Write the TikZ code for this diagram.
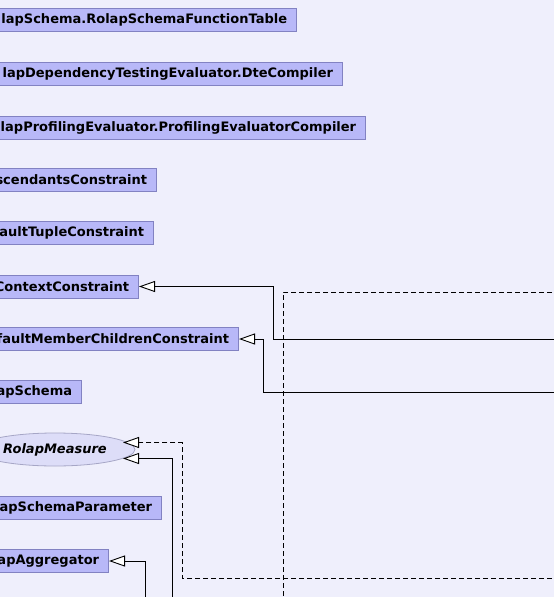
\documentclass[tikz,border=0pt]{standalone}
\usepackage{fontspec}
\setsansfont{DejaVu Sans}
\usetikzlibrary{arrows.meta,shapes.geometric}

\definecolor{canvas}{HTML}{EFEFFC}
\definecolor{classfill}{HTML}{B8B8F8}
\definecolor{classline}{HTML}{8282C2}
\definecolor{ifacefill}{HTML}{DDDDF8}
\definecolor{ifaceline}{HTML}{A6A6C6}

\tikzset{
  label font/.style={font=\sffamily\bfseries\fontsize{13bp}{15bp}\selectfont, text=black},
  cls/.style={label font, draw=classline, fill=classfill, line width=0.8bp,
    anchor=east, minimum height=23bp, inner xsep=9.5bp, inner ysep=0pt},
  iface/.style={label font, ellipse, draw=ifaceline, fill=ifacefill, line width=0.8bp,
    minimum width=160bp, minimum height=33bp, inner sep=0pt},
  inh/.style={draw=black, line width=0.9bp,
    -{Triangle[length=16bp, width=11bp, fill=white, line width=0.9bp]}},
  tmpl/.style={inh, dash pattern=on 5bp off 3bp},
  plain/.style={draw=black, line width=0.9bp, dash pattern=on 5bp off 3bp},
}

\begin{document}
\begin{tikzpicture}[x=1bp, y=-1bp]
  \useasboundingbox (0,0) rectangle (554,597);
  \fill[canvas] (0,0) rectangle (554,597);
  \clip (0,0) rectangle (554,597);

  % class boxes, placed by their right edge
  \node[cls] (fntable)  at (297,20)    {lapSchema.RolapSchemaFunctionTable};
  \node[cls] (dte)      at (343,74)    {lapDependencyTestingEvaluator.DteCompiler};
  \node[cls] (profcomp) at (366,127.5) {lapProfilingEvaluator.ProfilingEvaluatorCompiler};
  \node[cls] (desc)     at (157,180)   {scendantsConstraint};
  \node[cls] (deftuple) at (154,233)   {faultTupleConstraint};
  \node[cls] (context)  at (139,286.5) {ContextConstraint};
  \node[cls] (defchild) at (239,339)   {faultMemberChildrenConstraint};
  \node[cls] (schema)   at (82,392)    {apSchema};
  \node[iface] (measure) at (55,449.5) {\itshape RolapMeasure};
  \node[cls] (param)    at (162,508)   {apSchemaParameter};
  \node[cls] (aggr)     at (109,561)   {apAggregator};

  % free ends of connectors leaving the visible area
  \coordinate (fromA) at (560,339);
  \coordinate (fromB) at (560,392);
  \coordinate (fromC) at (560,578);
  \coordinate (fromD) at (172,605);
  \coordinate (fromE) at (145,605);
  \coordinate (tplA)  at (560,292);
  \coordinate (tplB)  at (283,605);

  % inheritance connectors
  \draw[inh] (fromA) -- (273,339) |- (context.east);
  \draw[inh] (fromB) -- (263,392) |- (defchild.east);
  \draw[tmpl] (fromC) -- (182,578) |- ([xshift=68bp,yshift=7bp]measure.center);
  \draw[inh] (fromD) |- ([xshift=68bp,yshift=-9bp]measure.center);
  \draw[inh] (fromE) |- (aggr.east);

  % dashed connector crossing the lower right
  \draw[plain] (tplA) -| (tplB);
\end{tikzpicture}
\end{document}
